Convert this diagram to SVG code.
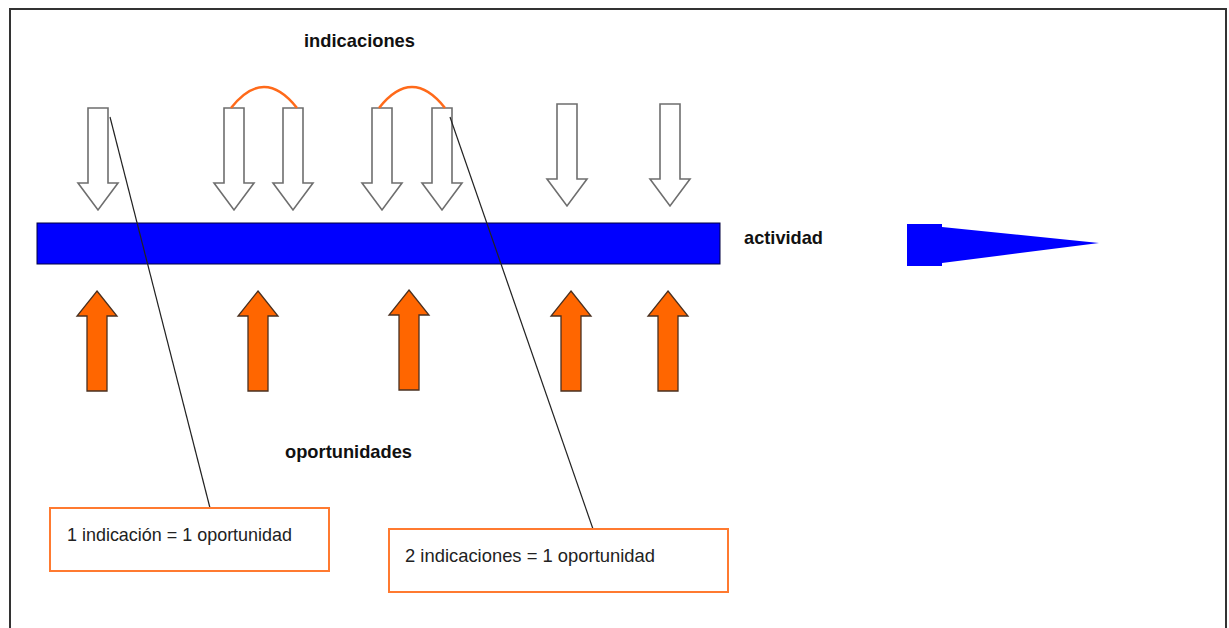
<svg xmlns="http://www.w3.org/2000/svg" width="1229" height="628" viewBox="0 0 1229 628">
<style>
.down{fill:#fff;stroke:#6e6e6e;stroke-width:1.6}
.up{fill:#ff6600;stroke:#4a3020;stroke-width:1.3}
.link{fill:none;stroke:#ff6a1a;stroke-width:2.5}
.lead{stroke:#222;stroke-width:1.2;fill:none}
.box{fill:#fff;stroke:#ff7a30;stroke-width:2}
.lbl{font-family:"Liberation Sans",Arial,sans-serif;font-weight:bold;font-size:19px;fill:#111}
.note{font-family:"Liberation Sans",Arial,sans-serif;font-size:19px;fill:#222}
</style>
<defs>
<path id="darrow" d="M-10,0 H10 V75 H20 L0,102 L-20,75 H-10 Z"/>
<path id="uarrow" d="M0,0 L20,25 H10 V100 H-10 V25 H-20 Z"/>
</defs>
<rect width="1229" height="628" fill="#fff"/>
<g id="frame"><path d="M10,640 V9 H1226 V640" fill="none" stroke="#333" stroke-width="2"/></g>

<g id="indicaciones-label"><text class="lbl" x="304" y="47" textLength="111" lengthAdjust="spacingAndGlyphs">indicaciones</text></g>

<g id="indicaciones">
<use href="#darrow" class="down" x="98" y="108"/>
<use href="#darrow" class="down" x="234" y="108"/>
<use href="#darrow" class="down" x="293" y="108"/>
<use href="#darrow" class="down" x="382" y="108"/>
<use href="#darrow" class="down" x="442" y="108"/>
<use href="#darrow" class="down" x="567" y="104"/>
<use href="#darrow" class="down" x="670" y="104"/>
</g>

<g id="actividad-bar"><rect x="37" y="223" width="683" height="41" fill="#0000ff" stroke="#000040" stroke-width="1"/></g>
<g id="actividad-label"><text class="lbl" x="744" y="244" textLength="79" lengthAdjust="spacingAndGlyphs">actividad</text></g>
<g id="direction-arrow"><polygon points="907,224 942,224 942,227 1099,243 942,263 942,266 907,266" fill="#0000ff"/></g>

<g id="oportunidades">
<use href="#uarrow" class="up" x="97" y="291"/>
<use href="#uarrow" class="up" x="258" y="291"/>
<use href="#uarrow" class="up" x="409" y="290"/>
<use href="#uarrow" class="up" x="571" y="291"/>
<use href="#uarrow" class="up" x="668" y="291"/>
</g>
<g id="oportunidades-label"><text class="lbl" x="285" y="458" textLength="127" lengthAdjust="spacingAndGlyphs">oportunidades</text></g>

<g id="connectors">
<path class="link" d="M231,108 Q264,66 297,108"/>
<path class="link" d="M379,108 Q412,66 445,108"/>
<line class="lead" x1="110" y1="117" x2="210" y2="508"/>
<line class="lead" x1="450" y1="117" x2="593" y2="529"/>
</g>

<g id="note1">
<rect class="box" x="50" y="508" width="279" height="63"/>
<text class="note" x="67" y="541" textLength="225" lengthAdjust="spacingAndGlyphs">1 indicación = 1 oportunidad</text>
</g>
<g id="note2">
<rect class="box" x="389" y="529" width="339" height="63"/>
<text class="note" x="405" y="562" textLength="250" lengthAdjust="spacingAndGlyphs">2 indicaciones = 1 oportunidad</text>
</g>
</svg>
